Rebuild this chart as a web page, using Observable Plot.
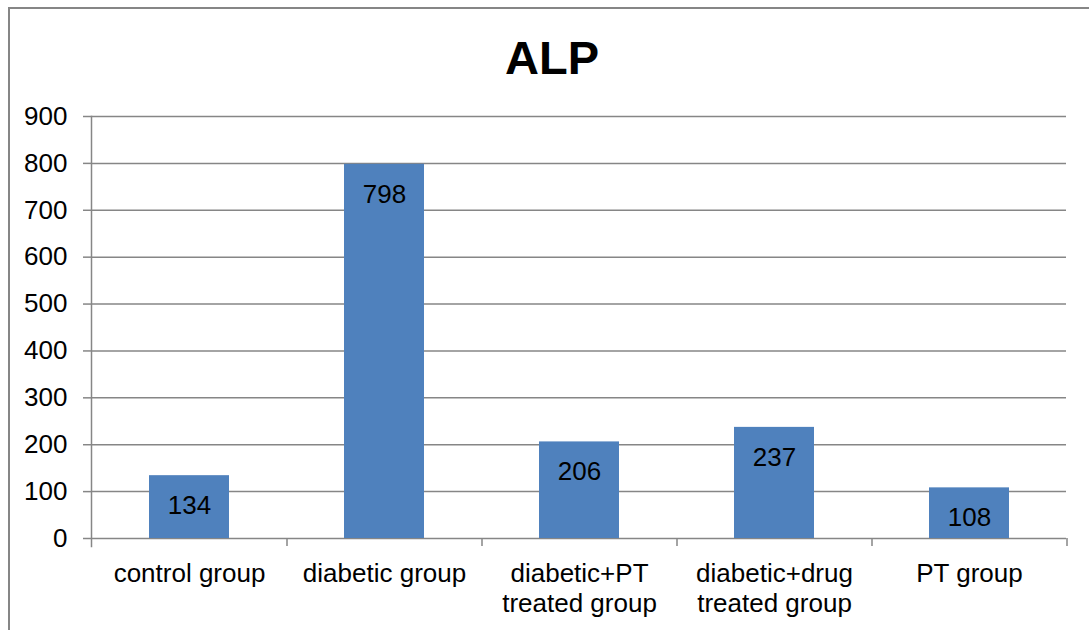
<!DOCTYPE html>
<html>
<head>
<meta charset="utf-8">
<script src="https://cdn.jsdelivr.net/npm/d3@7"></script>
<script src="https://cdn.jsdelivr.net/npm/@observablehq/plot@0.6"></script>
<style>
  html, body { margin: 0; padding: 0; width: 1089px; height: 630px; overflow: hidden; background: #fff;
    font-family: "Liberation Sans", Arial, sans-serif; }
  #frame { position: absolute; left: 8px; top: 7px; width: 1200px; height: 700px; border: 2px solid #868686; }
  #title { position: absolute; left: 0; width: 1104px; top: 30px; text-align: center;
    font-weight: bold; font-size: 47px; line-height: 56px; color: #000; }
  #chart { position: absolute; left: 0; top: 90px; }
</style>
</head>
<body>
<div id="frame"></div>
<div id="title">ALP</div>
<div id="chart"></div>
<script>
// ALP levels per group
const groups = [
  "control group",
  "diabetic group",
  "diabetic+PT\ntreated group",
  "diabetic+drug\ntreated group",
  "PT group"
];
const alp = [134, 798, 206, 237, 108];
const yTicks = [0, 100, 200, 300, 400, 500, 600, 700, 800, 900];

const data = groups.map((g, i) => ({group: g, value: alp[i]}));
const gridColor = "#868686";

const chart = Plot.plot({
  width: 1089,
  height: 540,
  marginLeft: 91,
  marginRight: 23,
  marginTop: 26,
  marginBottom: 92,
  style: {fontSize: "26px", fontFamily: "'Liberation Sans', Arial, sans-serif", color: "#000", background: "transparent"},
  x: {domain: groups, paddingInner: 0.59, paddingOuter: 0.29, label: null},
  y: {domain: [0, 900], label: null},
  marks: [
    // horizontal gridlines (including the baseline at 0)
    Plot.ruleY(yTicks, {stroke: gridColor, strokeWidth: 1.5}),
    // vertical axis line, running down past the baseline like the ticks
    Plot.frame({anchor: "left", stroke: gridColor, strokeWidth: 1.5, insetBottom: -8}),
    // category boundary ticks below the baseline
    Plot.ruleX(groups, {x: d => d, y1: 0, y2: 0, dx: 97.5, insetBottom: -8, stroke: gridColor, strokeWidth: 1.5}),
    Plot.barY(data, {x: "group", y: "value", fill: "#4F81BD"}),
    Plot.text(data, {x: "group", y: "value", text: d => String(d.value), dy: 30, fontSize: 26, fill: "#000"}),
    Plot.axisY({ticks: yTicks, tickSize: 8, tickPadding: 16, stroke: gridColor, fill: "#000", strokeWidth: 1.5, label: null}),
    Plot.axisX({tickSize: 0, tickPadding: 22, lineHeight: 1.15, fill: "#000", label: null})
  ]
});
document.getElementById("chart").appendChild(chart);
</script>
</body>
</html>
